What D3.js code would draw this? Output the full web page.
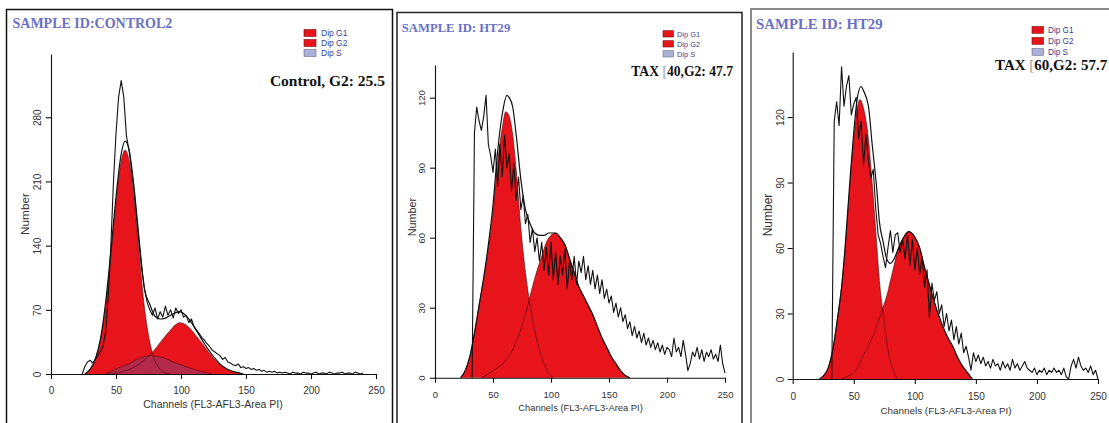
<!DOCTYPE html>
<html>
<head>
<meta charset="utf-8">
<script src="https://cdn.jsdelivr.net/npm/d3@7"></script>
<style>
  body { margin: 0; background: #fff; }
  svg { display: block; }
</style>
</head>
<body>
<svg id="chart" width="1109" height="423"></svg>
<script>
// ---------- shared labels ----------
const legendLabels = ["Dip G1", "Dip G2", "Dip S"];
const channelTicks = [0, 50, 100, 150, 200, 250];
const xAxisTitle = "Channels (FL3-AFL3-Area PI)";
const yAxisTitle = "Number";

// ---------- Control 2 ----------
const ctrlTitle = "SAMPLE ID:CONTROL2";
const ctrlNote = ["Control, G2: 25.5"];
const ctrlCountTicks = [0, 70, 140, 210, 280];
// raw histogram counts, every 2nd channel starting at channel 24
const ctrlRawStart = 24;
const ctrlRaw = [0, 8, 13, 15, 12, 16, 20, 24, 30, 46, 84, 138, 208, 262, 302, 320, 302, 260, 244, 222,
  198, 168, 138, 112, 92, 78, 70, 64, 72, 60, 68, 62, 74, 64, 70, 61, 72, 66, 70, 62,
  64, 56, 60, 52, 48, 44, 40, 37, 33, 30, 26, 24, 22, 20, 16, 18, 13, 12, 10, 9,
  11, 7, 8, 6, 7, 5, 6, 4, 5, 3, 4, 2, 3, 2, 3, 1, 2, 1, 2, 1,
  0, 2, 1, 1, 0, 2, 1, 1, 0, 1, 2, 0, 1, 1, 0, 2, 1, 0, 1, 1,
  2, 0, 1, 1, 0, 2, 1, 0, 1];
// fitted components: [channel, count]
const ctrlG1 = [[26,0],[30,5],[34,15],[38,36],[42,74],[46,128],[50,187],[54,232],[57,244],[60,233],[64,188],[68,127],[72,71],[76,35],[80,14],[84,5],[88,1],[92,0]];
const ctrlG2 = [[44,0],[50,1],[56,3],[62,6],[68,11],[74,18],[80,27],[86,38],[92,48],[96,54],[99,56],[102,55],[106,51],[112,41],[118,30],[124,19],[130,10],[136,5],[142,2],[148,0]];
const ctrlS = [[42,0],[48,4],[54,8],[60,11],[66,16],[72,19],[76,20],[82,19],[88,17],[94,13],[100,10],[106,7],[112,4],[118,2],[124,0]];
const ctrlFit = [[26,0],[30,5],[34,16],[38,38],[42,78],[46,133],[50,193],[54,240],[57,254],[60,245],[64,202],[68,144],[72,92],[76,76],[80,63],[84,60],[88,61],[92,64],[96,67],[99,68],[102,66],[106,60],[112,47],[118,33],[124,21],[130,11],[136,5],[142,2],[148,0]];

// ---------- HT29, TAX 40 ----------
const tax40Title = "SAMPLE ID: HT29";
const tax40Note = ["TAX ", "[", "40,G2: 47.7"];
const tax40CountTicks = [0, 30, 60, 90, 120];
const tax40RawStart = 32;
const tax40Raw = [0, 105, 116, 110, 106, 112, 121, 100, 95, 88, 98, 82, 100, 86, 104, 90, 96, 80, 92, 76,
  86, 72, 78, 66, 70, 58, 64, 54, 60, 50, 58, 46, 56, 44, 58, 42, 54, 40, 52, 44,
  55, 38, 50, 42, 52, 40, 50, 45, 52, 42, 48, 40, 46, 38, 44, 36, 42, 34, 38, 32,
  35, 28, 32, 26, 30, 24, 27, 21, 24, 18, 22, 17, 20, 15, 19, 14, 17, 13, 16, 12,
  15, 11, 14, 10, 13, 12, 9, 17, 11, 13, 9, 16, 10, 3, 6, 11, 9, 13, 8, 12,
  7, 11, 9, 12, 8, 10, 7, 14, 6, 2];
const tax40G1 = [[22,0],[26,3],[30,9],[34,19],[38,31],[42,42],[46,55],[50,71],[54,92],[58,107],[61,114],[64,112],[67,104],[70,89],[74,64],[78,45],[82,31],[86,20],[90,12],[94,6],[98,2],[102,0]];
const tax40G2 = [[40,0],[44,1],[50,3],[56,5],[62,8],[68,13],[72,18],[76,24],[80,31],[84,39],[88,46],[92,52],[96,58],[100,61],[104,62],[108,60],[112,57],[116,51],[120,45],[124,39],[128,35],[132,31],[136,27],[140,22],[144,17],[148,13],[152,9],[156,6],[160,3],[164,1],[168,0]];
const tax40Fit = [[22,0],[26,3],[30,9],[34,19],[38,31],[42,43],[46,57],[50,74],[54,97],[58,113],[62,121],[64,120],[67,116],[70,104],[74,85],[78,72],[82,66],[86,62],[90,61],[94,61],[98,62],[102,62],[104,62],[108,60],[112,57],[116,51],[120,45],[124,39],[128,35],[132,31],[136,27],[140,22],[144,17],[148,13],[152,9],[156,6],[160,3],[164,1],[168,0]];

// ---------- HT29, TAX 60 ----------
const tax60Title = "SAMPLE ID: HT29";
const tax60Note = ["TAX ", "[", "60,G2: 57.7"];
const tax60CountTicks = [0, 30, 60, 90, 120];
const tax60RawStart = 32;
const tax60Raw = [0, 118, 127, 116, 143, 125, 134, 139, 121, 126, 129, 110, 118, 98, 112, 100, 92, 96, 78, 66,
  62, 56, 51, 60, 68, 58, 66, 67, 58, 64, 55, 66, 52, 64, 50, 60, 48, 56, 42, 50,
  28, 44, 36, 40, 30, 34, 24, 30, 22, 27, 18, 24, 16, 21, 12, 15, 10, 4, 12, 8,
  11, 7, 10, 6, 8, 5, 9, 6, 7, 4, 8, 5, 7, 4, 9, 5, 7, 4, 6, 8,
  5, 4, 3, 5, 2, 4, 3, 5, 2, 4, 3, 5, 3, 4, 2, 5, 1, 0, 6, 9,
  5, 10, 6, 4, 5, 3, 6, 2, 4, 0];
const tax60G1 = [[22,0],[26,2],[29,5],[33,14],[37,29],[40,42],[43,60],[47,90],[50,110],[53,124],[55,128],[58,124],[62,110],[65,90],[69,60],[71,45],[74,30],[77,17],[80,8],[83,3],[86,0]];
const tax60G2 = [[40,0],[44,1],[50,3],[54,6],[58,11],[62,15],[66,20],[70,26],[74,33],[77,38],[80,45],[83,52],[86,59],[90,64],[95,67.5],[100,65],[104,60],[108,51],[111,45],[115,37],[119,30],[123,24],[127,19],[131,15],[135,10],[139,6],[143,3],[147,0]];
const tax60Fit = [[22,0],[26,2],[29,5],[33,14],[37,29],[40,42],[43,61],[47,92],[50,113],[53,129],[56,134],[58,132],[62,125],[65,108],[69,86],[71,72],[74,63],[77,55],[80,53],[83,55],[86,59],[90,64],[95,67.5],[100,65],[104,60],[108,51],[111,45],[115,37],[119,30],[123,24],[127,19],[131,15],[135,10],[139,6],[143,3],[147,0]];

// ---------- styling ----------
const RED = "#e8141c";
const OUTLINE = "#4a0606";
const S_FILL = "rgba(95,80,150,0.38)";
const TITLE_COLOR = "#6a70c4";
const LEGEND_TEXT = "#3a3f92";
const legendFills = [RED, RED, "#aab0d6"];

const svg = d3.select("#chart");
svg.append("rect").attr("width", 1109).attr("height", 423).attr("fill", "#fff");

const evenChannels = (start, vals) => vals.map((v, i) => [start + 2 * i, v]);

// panel frames
svg.append("rect").attr("x", 6.5).attr("y", 9.5).attr("width", 386).attr("height", 440)
  .attr("fill", "none").attr("stroke", "#111").attr("stroke-width", 1.5);
svg.append("rect").attr("x", 397).attr("y", 12.5).attr("width", 345).attr("height", 440)
  .attr("fill", "none").attr("stroke", "#222").attr("stroke-width", 1.5);
svg.append("rect").attr("x", 751).attr("y", 9).attr("width", 400).attr("height", 440)
  .attr("fill", "none").attr("stroke", "#8a8a8a").attr("stroke-width", 2);

const panels = [
  {
    x0: 51, x1: 376, yBase: 374, yTop: 54, vMax: 349, minorY: 14,
    countTicks: ctrlCountTicks, raw: evenChannels(ctrlRawStart, ctrlRaw),
    comps: [ctrlG1, ctrlG2], sPhase: ctrlS, fit: ctrlFit,
    title: ctrlTitle, titlePos: [12.5, 27.5], titleSize: 14,
    legend: { x: 304, y: 29.5, w: 12, h: 7, pitch: 10, tx: 321, size: 8.5 },
    note: ctrlNote, notePos: [385, 86], noteSize: 15.5,
    tickSize: 10, xPad: 7.5, yLab: -9.9,
    xTitlePos: [213, 407.5], xTitleSize: 10.5,
    yTitlePos: [25, 214], yTitleSize: 11.8
  },
  {
    x0: 435, x1: 725, yBase: 377.7, yTop: 65, vMax: 134, minorY: 6,
    countTicks: tax40CountTicks, raw: evenChannels(tax40RawStart, tax40Raw),
    comps: [tax40G1, tax40G2], sPhase: null, fit: tax40Fit,
    title: tax40Title, titlePos: [401.7, 31.7], titleSize: 12.7,
    legend: { x: 663, y: 30.7, w: 10.5, h: 6.3, pitch: 10, tx: 677, size: 7.4 },
    note: tax40Note, notePos: [733, 76], noteSize: 13.6,
    tickSize: 9.5, xPad: 9, yLab: -9.9,
    xTitlePos: [580.5, 410.5], xTitleSize: 9.4,
    yTitlePos: [412.5, 217], yTitleSize: 10.8
  },
  {
    x0: 792.7, x1: 1098, yBase: 379, yTop: 52, vMax: 149.8, minorY: 6,
    countTicks: tax60CountTicks, raw: evenChannels(tax60RawStart, tax60Raw),
    comps: [tax60G1, tax60G2], sPhase: null, fit: tax60Fit,
    title: tax60Title, titlePos: [756, 29.3], titleSize: 14.8,
    legend: { x: 1032, y: 26.5, w: 11.5, h: 6.8, pitch: 11, tx: 1048, size: 8.2 },
    note: tax60Note, notePos: [995, 70], noteSize: 15, noteAnchor: "start",
    tickSize: 10, xPad: 9.3, yLab: -8.3,
    xTitlePos: [946, 413.5], xTitleSize: 9.9,
    yTitlePos: [768, 215], yTitleSize: 12
  }
];

function drawPanel(p) {
  const g = svg.append("g");
  const x = d3.scaleLinear().domain([0, 250]).range([p.x0, p.x1]);
  const y = d3.scaleLinear().domain([0, p.vMax]).range([p.yBase, p.yTop]);

  const area = d3.area().x(d => x(d[0])).y0(y(0)).y1(d => y(d[1])).curve(d3.curveMonotoneX);
  const smooth = d3.line().x(d => x(d[0])).y(d => y(d[1])).curve(d3.curveMonotoneX);
  const jagged = d3.line().x(d => x(d[0])).y(d => y(d[1]));

  // G1 / G2 fills, S phase overlay, then component outlines
  p.comps.forEach(c => g.append("path").datum(c).attr("d", area).attr("fill", RED));
  if (p.sPhase) {
    g.append("path").datum(p.sPhase).attr("d", area).attr("fill", S_FILL);
  }
  p.comps.concat(p.sPhase ? [p.sPhase] : []).forEach(c =>
    g.append("path").datum(c).attr("d", smooth).attr("fill", "none")
      .attr("stroke", OUTLINE).attr("stroke-opacity", 0.75).attr("stroke-width", 0.8));

  // model envelope and measured histogram
  g.append("path").datum(p.fit).attr("d", smooth).attr("fill", "none")
    .attr("stroke", "#111").attr("stroke-width", 1.2);
  g.append("path").datum(p.raw).attr("d", jagged).attr("fill", "none")
    .attr("stroke", "#111").attr("stroke-width", 1.1).attr("stroke-linejoin", "round");

  // x axis
  const xAxis = g.append("g").attr("transform", `translate(0,${p.yBase})`);
  xAxis.call(d3.axisBottom(x).tickValues(d3.range(0, 251, 10)).tickSize(3).tickSizeOuter(0).tickFormat(""));
  xAxis.call(d3.axisBottom(x).tickValues(channelTicks).tickSize(5).tickSizeOuter(0).tickPadding(p.xPad));
  xAxis.selectAll("text").attr("font-family", "'Liberation Sans', Arial, sans-serif")
    .attr("font-size", p.tickSize).attr("fill", "#333");

  // y axis
  const yAxis = g.append("g").attr("transform", `translate(${p.x0},0)`);
  yAxis.call(d3.axisLeft(y).tickValues(d3.range(0, p.vMax, p.minorY)).tickSize(3).tickSizeOuter(0).tickFormat(""));
  yAxis.call(d3.axisLeft(y).tickValues(p.countTicks).tickSize(5).tickSizeOuter(0));
  yAxis.selectAll("text")
    .attr("transform", "rotate(-90)").attr("x", 0).attr("y", p.yLab).attr("dy", null)
    .attr("text-anchor", "middle")
    .attr("font-family", "'Liberation Sans', Arial, sans-serif")
    .attr("font-size", p.tickSize).attr("fill", "#333");
  g.selectAll(".domain, .tick line").attr("stroke", "#111").attr("stroke-width", 1.1);

  // axis titles
  g.append("text").attr("x", p.xTitlePos[0]).attr("y", p.xTitlePos[1])
    .attr("text-anchor", "middle").attr("font-family", "'Liberation Sans', Arial, sans-serif")
    .attr("font-size", p.xTitleSize).attr("fill", "#333").text(xAxisTitle);
  g.append("text").attr("transform", `translate(${p.yTitlePos[0]},${p.yTitlePos[1]}) rotate(-90)`)
    .attr("dy", "0.36em").attr("text-anchor", "middle")
    .attr("font-family", "'Liberation Sans', Arial, sans-serif")
    .attr("font-size", p.yTitleSize).attr("fill", "#333").text(yAxisTitle);

  // sample title
  g.append("text").attr("x", p.titlePos[0]).attr("y", p.titlePos[1])
    .attr("font-family", "'Liberation Serif', 'Times New Roman', serif").attr("font-weight", "bold")
    .attr("font-size", p.titleSize).attr("fill", TITLE_COLOR).text(p.title);

  // legend
  const L = p.legend;
  legendLabels.forEach((lab, i) => {
    g.append("rect").attr("x", L.x).attr("y", L.y + i * L.pitch).attr("width", L.w).attr("height", L.h)
      .attr("fill", legendFills[i]).attr("stroke", i < 2 ? "#7a0a0a" : "#6a6f90").attr("stroke-width", 0.6);
    g.append("text").attr("x", L.tx).attr("y", L.y + i * L.pitch + L.h - 0.3)
      .attr("font-family", "'Liberation Sans', Arial, sans-serif").attr("font-size", L.size)
      .attr("fill", LEGEND_TEXT).text(lab);
  });

  // treatment note
  const note = g.append("text").attr("x", p.notePos[0]).attr("y", p.notePos[1])
    .attr("text-anchor", p.noteAnchor || "end")
    .attr("font-family", "'Liberation Serif', 'Times New Roman', serif").attr("font-weight", "bold")
    .attr("font-size", p.noteSize).attr("fill", "#111");
  p.note.forEach((part, i) => {
    note.append("tspan").text(part)
      .attr("fill", part === "[" ? "#9a9a9a" : "#111")
      .attr("font-weight", part === "[" ? "normal" : "bold");
  });
}

panels.forEach(drawPanel);
</script>
</body>
</html>
